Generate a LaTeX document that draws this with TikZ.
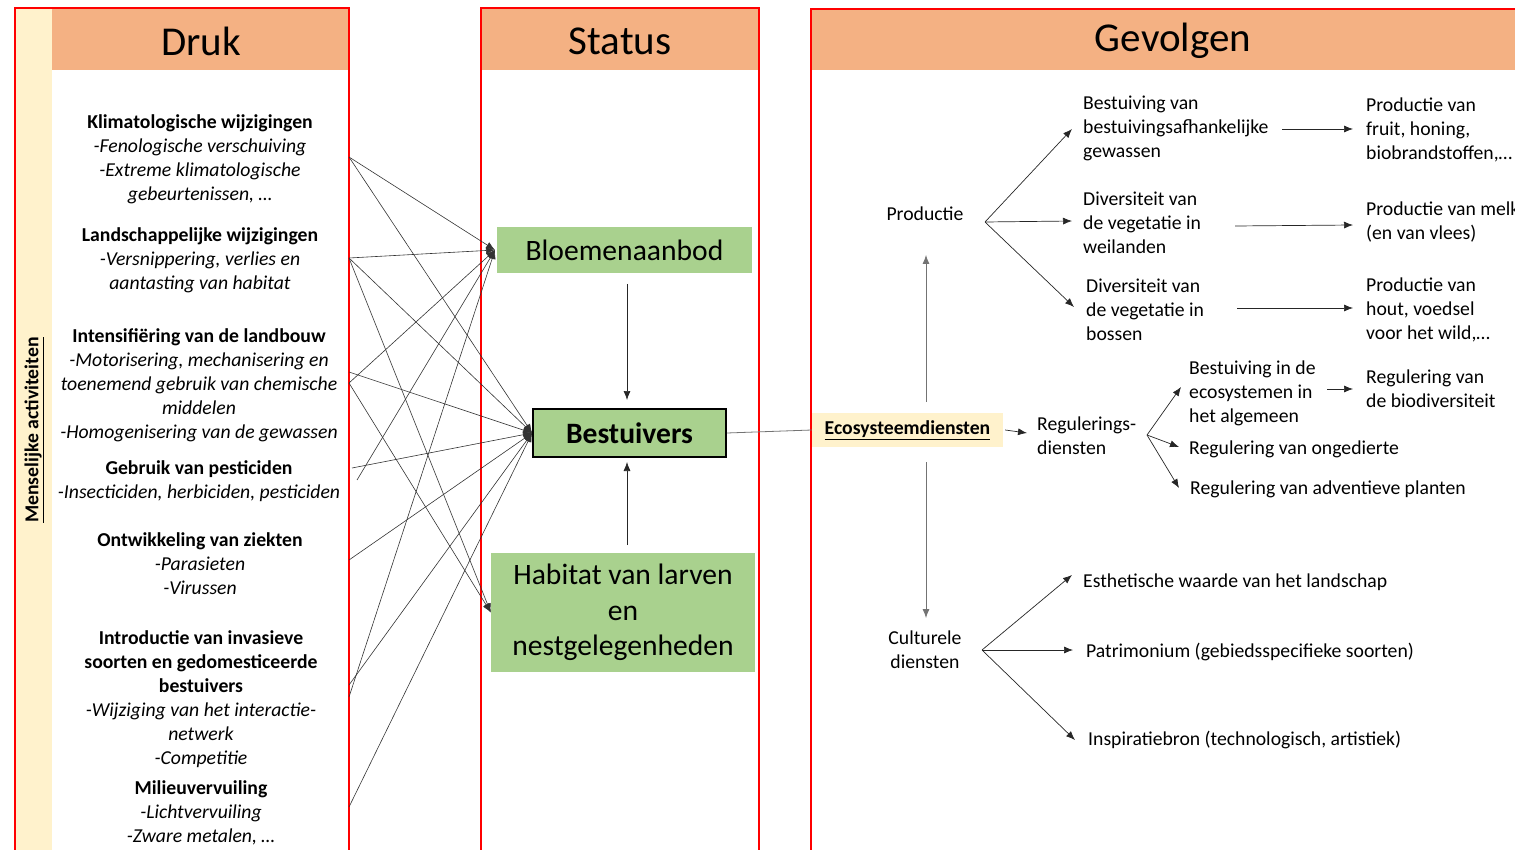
\documentclass[tikz,border=0pt]{standalone}
\usepackage{fontspec}
\setmainfont{Carlito}
\usetikzlibrary{arrows.meta}
\definecolor{hdrorange}{HTML}{F4B183}
\definecolor{boxgreen}{HTML}{A9D18E}
\definecolor{paleyellow}{HTML}{FFF2CC}
\begin{document}
\begin{tikzpicture}[x=1pt,y=-1pt,
  txt/.style={font=\fontsize{19.7}{24}\selectfont, inner sep=0pt, align=left, yshift=-2pt},
  ctxt/.style={font=\fontsize{19.7}{24}\selectfont, inner sep=0pt, align=center, yshift=-2pt},
  hdr/.style={fill=hdrorange, font=\fontsize{41}{44}\selectfont, inner sep=0pt},
  gbox/.style={fill=boxgreen, font=\fontsize{29.6}{35.5}\selectfont, inner sep=0pt},
  panel/.style={draw=red, line width=1.4pt},
  link/.style={draw=black!80, line width=0.6pt, -{Latex[length=9pt,width=7pt]}},
  arr/.style={draw=black!85, line width=0.7pt, -{Latex[length=9pt,width=7pt]}},
  vline/.style={draw=black!55, line width=0.8pt},
  varr/.style={draw=black!85, line width=0.7pt, -{Latex[length=9pt,width=7pt]}}
]
\useasboundingbox (0,0) rectangle (1515,850);
\clip (0,0) rectangle (1515,850);

% backgrounds
\fill[paleyellow] (15,8) rectangle (52,870);
\fill[hdrorange] (52,8) rectangle (348,70);
\fill[hdrorange] (481,8) rectangle (759,70);
\fill[hdrorange] (811,9) rectangle (1530,70);
\node[font=\fontsize{41}{44}\selectfont, inner sep=0pt] (hdruk) at (201,41) {Druk};
\node[font=\fontsize{41}{44}\selectfont, inner sep=0pt] (hstat) at (620,41) {Status};
\node[font=\fontsize{41}{44}\selectfont, inner sep=0pt] (hgev) at (1173,41) {Gevolgen};

% panels
\draw[panel] (15,8) rectangle (349,870);
\draw[panel] (481,8) rectangle (759,870);
\draw[panel] (811,870) -- (811,9) -- (1530,9);

\node[rotate=90, font=\fontsize{19.7}{22}\selectfont\bfseries, inner sep=0pt] (mens) at (34,430) {\underline{Menselijke activiteiten}};

% left texts
\node[ctxt] (klim) at (200,157) {\textbf{Klimatologische wijzigingen}\\\textit{-Fenologische verschuiving}\\\textit{-Extreme klimatologische}\\\textit{gebeurtenissen, …}};
\node[ctxt] (land) at (200,258) {\textbf{Landschappelijke wijzigingen}\\\textit{-Versnippering, verlies en}\\\textit{aantasting van habitat}};
\node[ctxt] (inten) at (199,383) {\textbf{Intensifiëring van de landbouw}\\\textit{-Motorisering, mechanisering en}\\\textit{toenemend gebruik van chemische}\\\textit{middelen}\\\textit{-Homogenisering van de gewassen}};
\node[ctxt] (pest) at (199,479) {\textbf{Gebruik van pesticiden}\\\textit{-Insecticiden, herbiciden, pesticiden}};
\node[ctxt] (ziek) at (200,562) {\textbf{Ontwikkeling van ziekten}\\\textit{-Parasieten}\\\textit{-Virussen}};
\node[ctxt] (intro) at (201,697) {\textbf{Introductie van invasieve}\\\textbf{soorten en gedomesticeerde}\\\textbf{bestuivers}\\\textit{-Wijziging van het interactie-}\\\textit{netwerk}\\\textit{-Competitie}};
\node[ctxt] (milieu) at (201,811) {\textbf{Milieuvervuiling}\\\textit{-Lichtvervuiling}\\\textit{-Zware metalen, …}};

% status boxes
\node[gbox, minimum width=255pt, minimum height=46pt] (bloem) at (624.5,250) {Bloemenaanbod};
\node[gbox, draw=black, line width=1.8pt, minimum width=193pt, minimum height=48pt, font=\fontsize{29.6}{32}\selectfont\bfseries] (bestu) at (629.5,433) {Bestuivers};
\node[gbox, minimum width=264pt, minimum height=119pt, align=center] (hab) at (623,612.5) {Habitat van larven\\en\\nestgelegenheden};

\coordinate (bl1) at (627,284);
\coordinate (bl2) at (627,400);
\coordinate (hb1) at (627,545);
\coordinate (hb2) at (627,462);
\draw[varr] (bl1) -- (bl2);
\draw[varr] (hb1) -- (hb2);

% source points
\coordinate (s1) at (349,157);
\coordinate (s2) at (349,258);
\coordinate (s3) at (349,372);
\coordinate (s4) at (349,383);
\coordinate (s5) at (352,468);
\coordinate (s6) at (357,480);
\coordinate (s7) at (349,560);
\coordinate (s8) at (349,685);
\coordinate (s9) at (349,697);
\coordinate (s10) at (349,807);
\coordinate (tb) at (495,250);

\foreach \s in {s1,s2,s4,s6,s9} \draw[link] (\s) -- (tb);
\foreach \s in {s1,s2,s3,s5,s7,s8,s10} \draw[link] (\s) -- (bestu.west);
\foreach \s in {s2,s4} \draw[link] (\s) -- (hab.west);

% Gevolgen
\node[fill=paleyellow, inner sep=0pt, minimum width=191pt, minimum height=34pt, font=\fontsize{19.7}{22}\selectfont\bfseries] (eco) at (907.5,430) {\underline{Ecosysteemdiensten}};
\draw[vline] (bestu.east) -- (eco.west);

\node[txt, anchor=west] (reg) at (1037,434) {Regulerings-\\diensten};
\draw[arr] ([xshift=2pt]eco.east) -- (1027,433);

\node[ctxt] (prod) at (925,212) {Productie};
\node[ctxt] (cult) at (925,648) {Culturele\\diensten};
\coordinate (eu) at (926,402);
\coordinate (ed) at (926,462);
\coordinate (pu) at (926,255);
\coordinate (cd) at (926,618);
\draw[vline,-{Latex[length=9pt,width=7pt]}] (eu) -- (pu);
\draw[vline,-{Latex[length=9pt,width=7pt]}] (ed) -- (cd);

% productie branch
\coordinate (p0) at (985,222);
\node[txt, anchor=west] (b1) at (1083,126) {Bestuiving van\\bestuivingsafhankelijke\\gewassen};
\node[txt, anchor=west] (b2) at (1083,221) {Diversiteit van\\de vegetatie in\\weilanden};
\node[txt, anchor=west] (b3) at (1086,308) {Diversiteit van\\de vegetatie in\\bossen};
\draw[arr] (p0) -- (1072,129);
\draw[arr] (p0) -- (1072,221);
\draw[arr] (p0) -- (1074,307);

\node[txt, anchor=west] (r1) at (1366,128) {Productie van\\fruit, honing,\\biobrandstoffen,…};
\node[txt, anchor=west] (r2) at (1366,220) {Productie van melk\\(en van vlees)};
\node[txt, anchor=west] (r3) at (1366,308) {Productie van\\hout, voedsel\\voor het wild,…};
\draw[arr] (1282,129) -- (1353,129);
\draw[arr] (1235,226) -- (1353,225);
\draw[arr] (1237,308) -- (1353,308);

% regulering branch
\coordinate (g0) at (1147,435);
\node[txt, anchor=west] (g1) at (1189,391) {Bestuiving in de\\ecosystemen in\\het algemeen};
\node[txt, anchor=west] (g2) at (1189,447) {Regulering van ongedierte};
\node[txt, anchor=west] (g3) at (1190,487) {Regulering van adventieve planten};
\draw[arr] (g0) -- (1181,387);
\draw[arr] (g0) -- (1179,447);
\draw[arr] (g0) -- (1179,488);
\node[txt, anchor=west] (g4) at (1366,387) {Regulering van\\de biodiversiteit};
\draw[arr] (1327,389) -- (1353,389);

% culturele branch
\coordinate (c0) at (982,650);
\node[txt, anchor=west] (c1) at (1083,580) {Esthetische waarde van het landschap};
\node[txt, anchor=west] (c2) at (1086,650) {Patrimonium (gebiedsspecifieke soorten)};
\node[txt, anchor=west] (c3) at (1088,738) {Inspiratiebron (technologisch, artistiek)};
\draw[arr] (c0) -- (1072,575);
\draw[arr] (c0) -- (1073,650);
\draw[arr] (c0) -- (1075,740);
\end{tikzpicture}
\end{document}
